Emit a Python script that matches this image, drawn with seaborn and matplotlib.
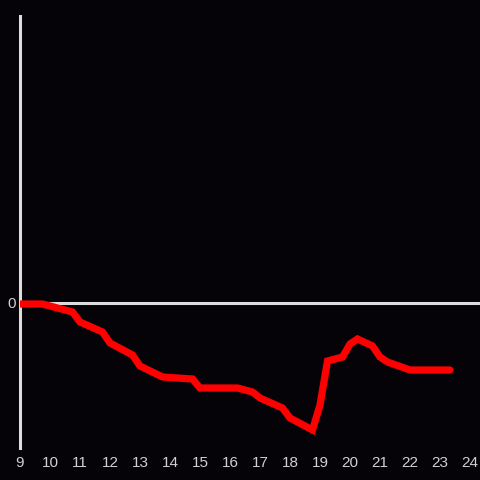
import matplotlib
matplotlib.use("Agg")
import matplotlib.pyplot as plt
import seaborn as sns
import pandas as pd

hours = [9.0, 9.75, 10.75, 11.0, 11.75, 12.0, 12.75, 13.0, 13.75, 14.75, 15.0,
         16.25, 16.75, 17.0, 17.75, 18.0, 18.75, 19.0, 19.25, 19.75, 20.0,
         20.25, 20.75, 21.0, 21.25, 22.0, 23.33]
values = [-1, -1, -9, -19, -29, -40, -52, -63, -74, -76, -85,
          -85, -89, -95, -105, -115, -127, -102, -58, -54, -41,
          -36, -43, -54, -59, -67, -67]
xticks = list(range(9, 25))

df = pd.DataFrame({"hour": hours, "value": values})

sns.set_theme(style="dark")
plt.rcParams["font.family"] = ["Liberation Sans", "DejaVu Sans"]

bg = "#050307"
fig = plt.figure(figsize=(4.8, 4.8), dpi=100, facecolor=bg)
ax = fig.add_axes([20/480, 32/480, 460/480, 432/480])
ax.set_facecolor(bg)

ax.axhline(0, color="#dddddd", lw=2.2, zorder=1)
sns.lineplot(data=df, x="hour", y="value", ax=ax, color="#ff0000", lw=5.2,
             zorder=3, solid_joinstyle="miter")

ax.set_xlim(9, 24.333)
ax.set_ylim(-145, 287)
ax.set_xticks(xticks)
ax.set_xticklabels([str(t) for t in xticks])
ax.set_yticks([0])
ax.set_yticklabels(["0"])
ax.tick_params(axis="both", length=0, colors="#d0d0d0", labelsize=11)
ax.tick_params(axis="x", pad=6)
ax.tick_params(axis="y", pad=3)
ax.set_xlabel("")
ax.set_ylabel("")
ax.grid(False)
for s in ["top", "right", "bottom"]:
    ax.spines[s].set_visible(False)
ax.spines["left"].set_color("#dddddd")
ax.spines["left"].set_linewidth(2.2)
ax.spines["left"].set_zorder(2)

fig.savefig("out.png", dpi=100, facecolor=bg)
